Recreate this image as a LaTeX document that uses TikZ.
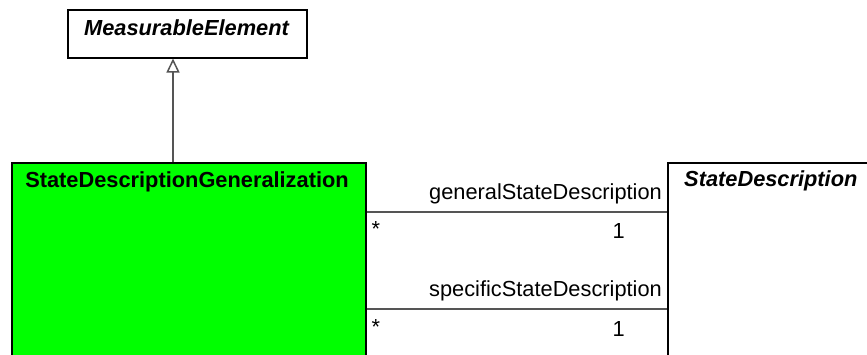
\documentclass[tikz,border=0pt]{standalone}
\usepackage{fontspec}
\setmainfont{Liberation Sans}
\usetikzlibrary{arrows.meta}
\definecolor{umlgreen}{RGB}{0,255,0}
\definecolor{linegray}{RGB}{85,85,85}
\begin{document}
\begin{tikzpicture}[x=1pt,y=-1pt,
  classbox/.style={draw=black, line width=1.5pt, rectangle, inner sep=0pt, anchor=north west},
  assoc/.style={draw=linegray, line width=1.5pt},
  gen/.style={draw=linegray, line width=1.5pt, -{Triangle[open, length=14pt, width=13pt, line width=1.5pt]}},
  txt/.style={font=\fontsize{21.8}{26}\selectfont, inner sep=0pt},
  titletxt/.style={font=\fontsize{21.8}{26}\selectfont\bfseries, inner sep=0pt},
  abstracttxt/.style={font=\fontsize{21.8}{26}\selectfont\bfseries\itshape, inner sep=0pt}]
\useasboundingbox (0,0) rectangle (867,354);
\clip (0,0) rectangle (867,354);
\fill[white] (0,0) rectangle (867,354);

% classes
\node[classbox, minimum width=239pt, minimum height=48pt] (me) at (67,9) {};
\node[abstracttxt, anchor=base] (meT) at (186.5,35) {MeasurableElement};

\node[classbox, fill=umlgreen, minimum width=354pt, minimum height=230pt] (sdg) at (11,162) {};
\node[titletxt, anchor=base] (sdgT) at (187,187) {StateDescriptionGeneralization};

\node[classbox, fill=white, minimum width=230pt, minimum height=230pt] (sd) at (667,162) {};
\node[abstracttxt, anchor=base west] (sdT) at (684,186) {StateDescription};

% generalization
\coordinate (g1) at (173,162);
\draw[gen] (g1) -- (g1 |- me.south);

% associations
\coordinate (a1s) at ([yshift=-50pt]sdg.north east);
\coordinate (a1e) at ([yshift=-50pt]sd.north west);
\draw[assoc] (a1s) -- (a1e);
\coordinate (a2s) at ([yshift=-147pt]sdg.north east);
\coordinate (a2e) at ([yshift=-147pt]sd.north west);
\draw[assoc] (a2s) -- (a2e);

\node[txt, anchor=base east] (r1) at ([xshift=-5pt, yshift=13pt]a1e) {generalStateDescription};
\node[txt, anchor=base east] (m1e) at ([xshift=-42pt, yshift=-26pt]a1e) {1};
\node[txt, anchor=base west] (m1s) at ([xshift=5pt, yshift=-24pt]a1s) {*};

\node[txt, anchor=base east] (r2) at ([xshift=-5pt, yshift=13pt]a2e) {specificStateDescription};
\node[txt, anchor=base east] (m2e) at ([xshift=-42pt, yshift=-27pt]a2e) {1};
\node[txt, anchor=base west] (m2s) at ([xshift=5pt, yshift=-25pt]a2s) {*};
\end{tikzpicture}
\end{document}
